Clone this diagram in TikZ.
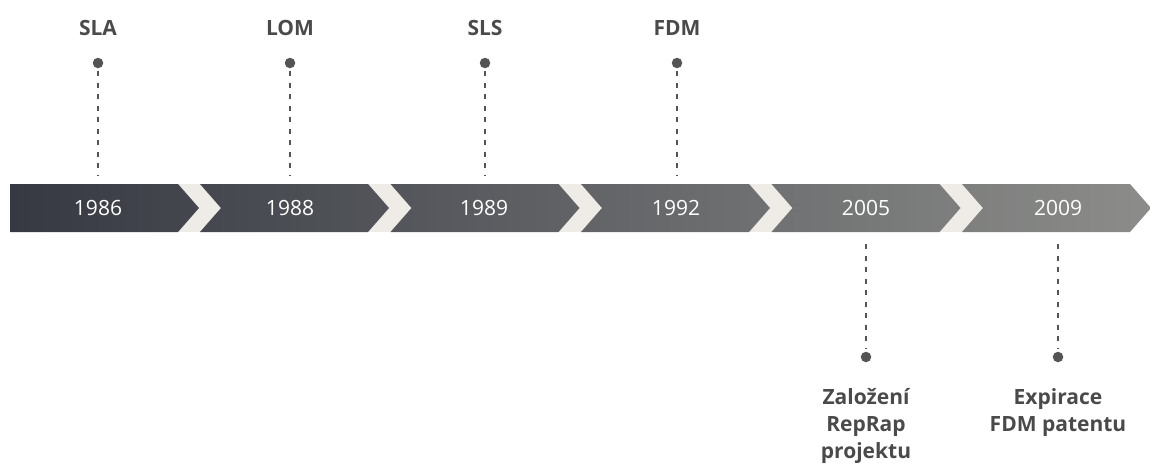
\documentclass[tikz,border=0pt]{standalone}
\usepackage{fontspec}
\setmainfont{Open Sans}
\definecolor{bandL}{HTML}{363942}
\definecolor{bandR}{HTML}{8C8D8A}
\definecolor{gapc}{HTML}{EFECE8}
\definecolor{inkc}{HTML}{545454}
\definecolor{labc}{HTML}{4A4A4A}
\tikzset{
  lab/.style={font=\bfseries\fontsize{21}{27}\selectfont, text=labc, inner sep=0pt, align=center},
  yr/.style={font=\fontsize{21}{25}\selectfont, text=white, inner sep=0pt},
  dotn/.style={circle, fill=inkc, inner sep=0pt, minimum size=10.5pt},
  conn/.style={draw=inkc, line width=1.5pt, dash pattern=on 5pt off 6.5pt},
}
\begin{document}
\begin{tikzpicture}[x=1pt,y=-1pt]
\useasboundingbox (0,0) rectangle (1150,469);
% gap background
\fill[gapc] (10,184) rectangle (1130,232);
% chevron band
\begin{scope}
\clip (10,184) -- (178,184) -- (199,208) -- (178,232) -- (10,232) -- cycle
  \foreach \s in {200,390.5,581,771.5,962} {
    (\s,184) -- (\s+168,184) -- (\s+189,208) -- (\s+168,232) -- (\s,232) -- (\s+21,208) -- cycle };
\shade[left color=bandL, right color=bandR] (10,184) rectangle (1151,232);
\end{scope}
% years
\node[yr] (y1986) at (98,208) {1986};
\node[yr] (y1988) at (290,208) {1988};
\node[yr] (y1989) at (484,208) {1989};
\node[yr] (y1992) at (676,208) {1992};
\node[yr] (y2005) at (866,208) {2005};
\node[yr] (y2009) at (1058,208) {2009};
% top labels
\node[lab, anchor=base] (sla) at (98,35) {SLA};
\node[lab, anchor=base] (lom) at (290,35) {LOM};
\node[lab, anchor=base] (sls) at (485,35) {SLS};
\node[lab, anchor=base] (fdm) at (677,35) {FDM};
\node[dotn] (d1) at (98,63) {};
\node[dotn] (d2) at (290,63) {};
\node[dotn] (d3) at (485,63) {};
\node[dotn] (d4) at (677,63) {};
\coordinate (e1) at (98,176);
\coordinate (e2) at (290,176);
\coordinate (e3) at (485,176);
\coordinate (e4) at (677,176);
\draw[conn] ([yshift=-3pt]d1.south) -- (e1);
\draw[conn] ([yshift=-3pt]d2.south) -- (e2);
\draw[conn] ([yshift=-3pt]d3.south) -- (e3);
\draw[conn] ([yshift=-3pt]d4.south) -- (e4);
% bottom labels
\coordinate (b1) at (866,244);
\coordinate (b2) at (1058,244);
\node[dotn] (d5) at (866,357) {};
\node[dotn] (d6) at (1058,357) {};
\draw[conn] (b1) -- ([yshift=3pt]d5.north);
\draw[conn] (b2) -- ([yshift=3pt]d6.north);
\node[lab, anchor=base] (rep) at (866,458) {Založení\\RepRap\\projektu};
\node[lab, anchor=base] (exp) at (1058,431) {Expirace\\FDM patentu};
\end{tikzpicture}
\end{document}
